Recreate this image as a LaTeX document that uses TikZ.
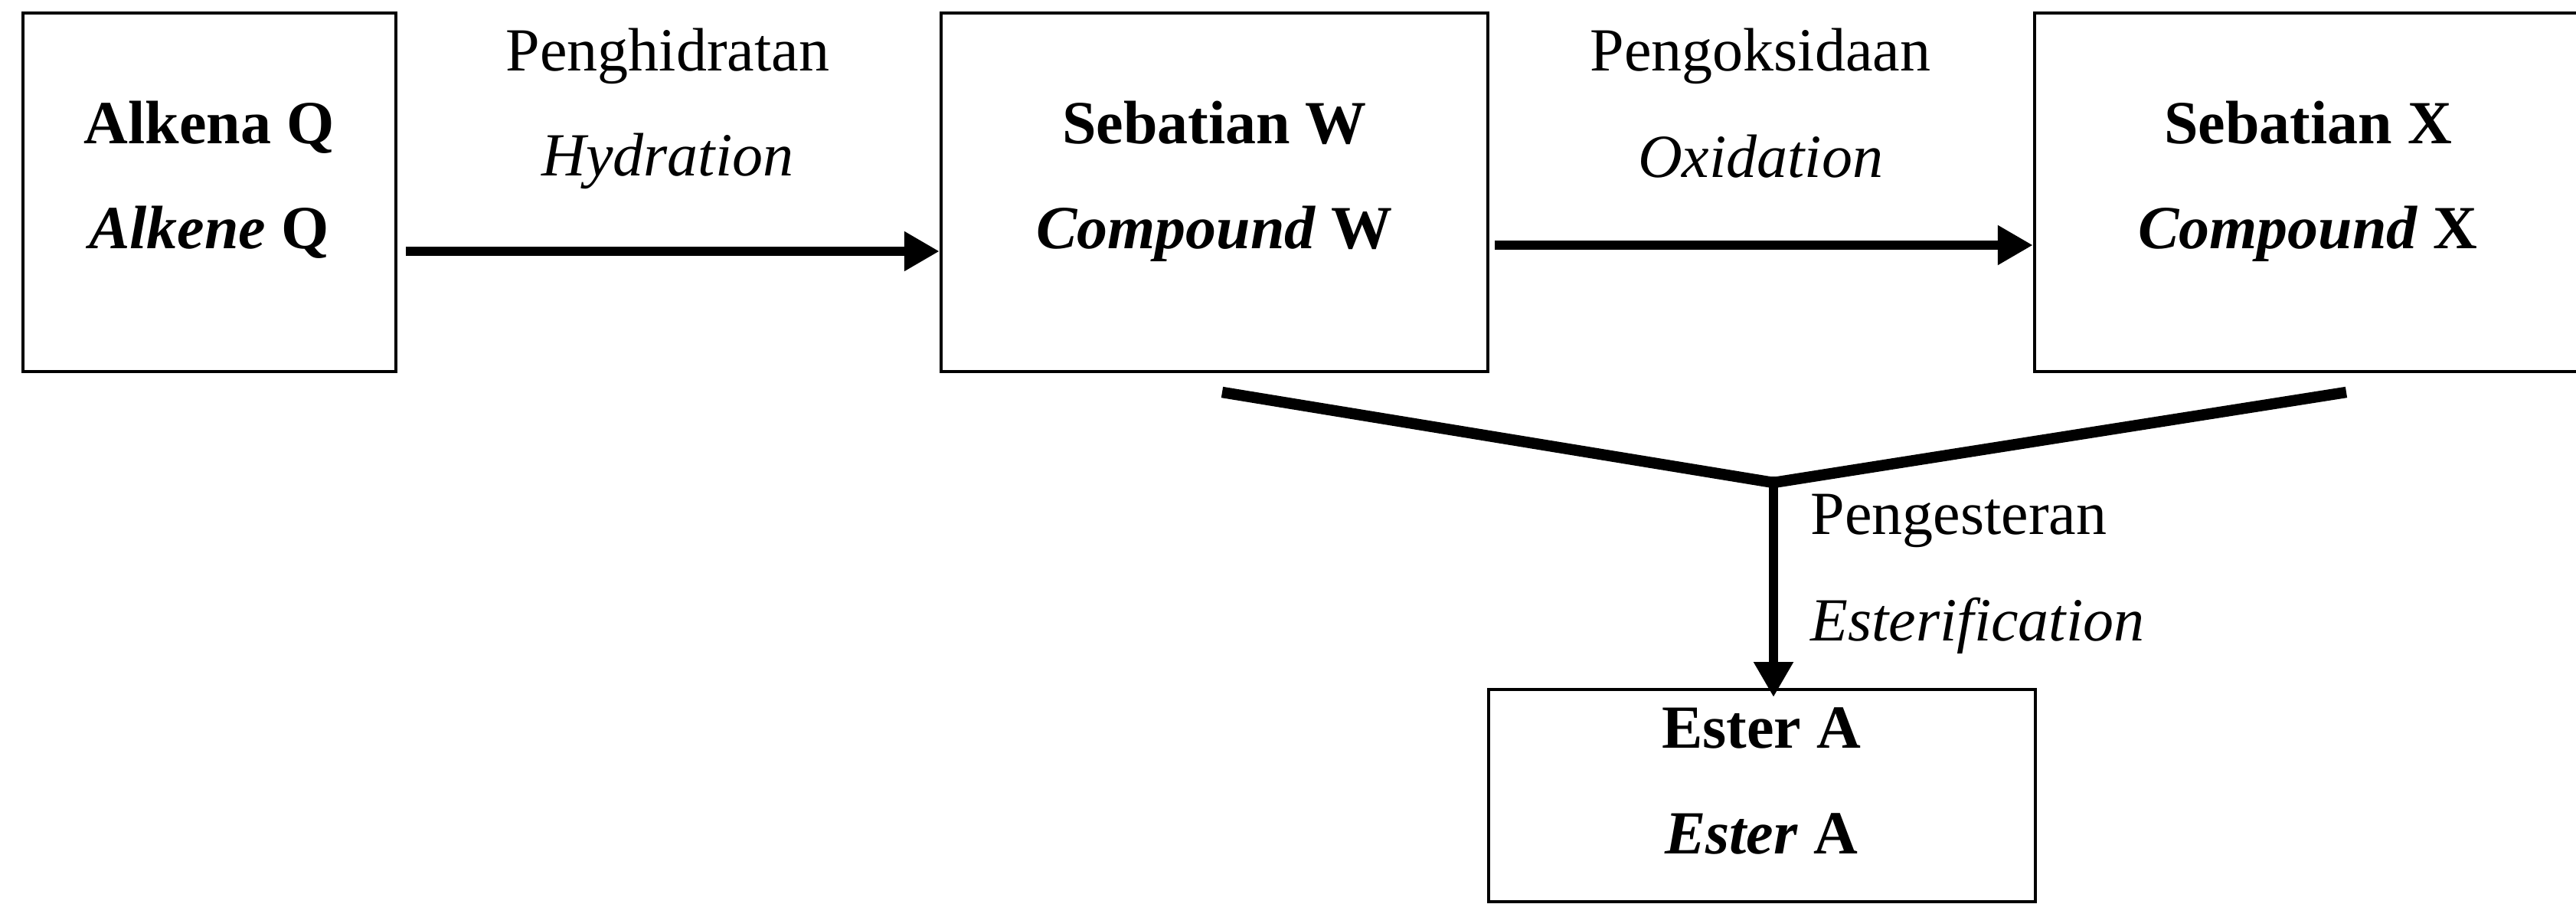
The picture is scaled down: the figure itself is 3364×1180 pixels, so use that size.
\documentclass[tikz,border=0pt]{standalone}
\usepackage{fontspec}
\setmainfont{Liberation Serif}
\usetikzlibrary{arrows.meta}
\begin{document}
\begin{tikzpicture}[x=0.1mm,y=-0.1mm,
  box/.style={draw,line width=0.45mm,inner sep=0pt,minimum height=46.8mm},
  wbox/.style={box,minimum width=71.4mm},
  txt/.style={inner sep=0pt,anchor=base,font=\fontsize{22.76pt}{27pt}\selectfont},
  ltxt/.style={txt,anchor=base west},
  arr/.style={line width=1.25mm,-{Triangle[length=4.6mm,width=4.9mm]}},
  vline/.style={line width=1.45mm,line cap=butt}]
\useasboundingbox (0,0) rectangle (3364,1180);
% boxes
\node[box,minimum width=48.7mm] (q) at (273.5,251) {};
\node[wbox] (w) at (1586,251) {};
\node[wbox] (x) at (3014,251) {};
\node[wbox,minimum height=27.7mm] (e) at (2301,1038.5) {};
% box texts
\node[txt] (q1) at (273,188) {\textbf{Alkena Q}};
\node[txt] (q2) at (273,325) {\textbf{\textit{Alkene} Q}};
\node[txt] (w1) at (1586,188) {\textbf{Sebatian W}};
\node[txt] (w2) at (1586,325) {\textbf{\textit{Compound} W}};
\node[txt] (x1) at (3014,188) {\textbf{Sebatian X}};
\node[txt] (x2) at (3014,325) {\textbf{\textit{Compound} X}};
\node[txt] (e1) at (2300,976) {\textbf{Ester A}};
\node[txt] (e2) at (2300,1115) {\textbf{\textit{Ester} A}};
% arrow labels
\node[txt] (l1a) at (872,93) {Penghidratan};
\node[txt] (l1b) at (872,230) {\textit{Hydration}};
\node[txt] (l2a) at (2299,93) {Pengoksidaan};
\node[txt] (l2b) at (2299,232) {\textit{Oxidation}};
\node[ltxt] (l3a) at (2364,698) {Pengesteran};
\node[ltxt] (l3b) at (2364,837) {\textit{Esterification}};
% connectors
\coordinate (y1) at (0,328);
\coordinate (y2) at (0,320);
\draw[arr,shorten <=1.1mm] (q.east |- y1) -- (w.west |- y1);
\draw[arr,shorten <=0.7mm] (w.east |- y2) -- (x.west |- y2);
\coordinate (vl) at (1596,512);
\coordinate (vr) at (3064,512);
\coordinate (v) at (2316,630);
\coordinate (vt) at (2316,622);
\coordinate (vb) at (2316,910);
\draw[vline] (vl) -- (v) -- (vr);
\draw[arr,line width=1.2mm] (vt) -- (vb);
\end{tikzpicture}
\end{document}
